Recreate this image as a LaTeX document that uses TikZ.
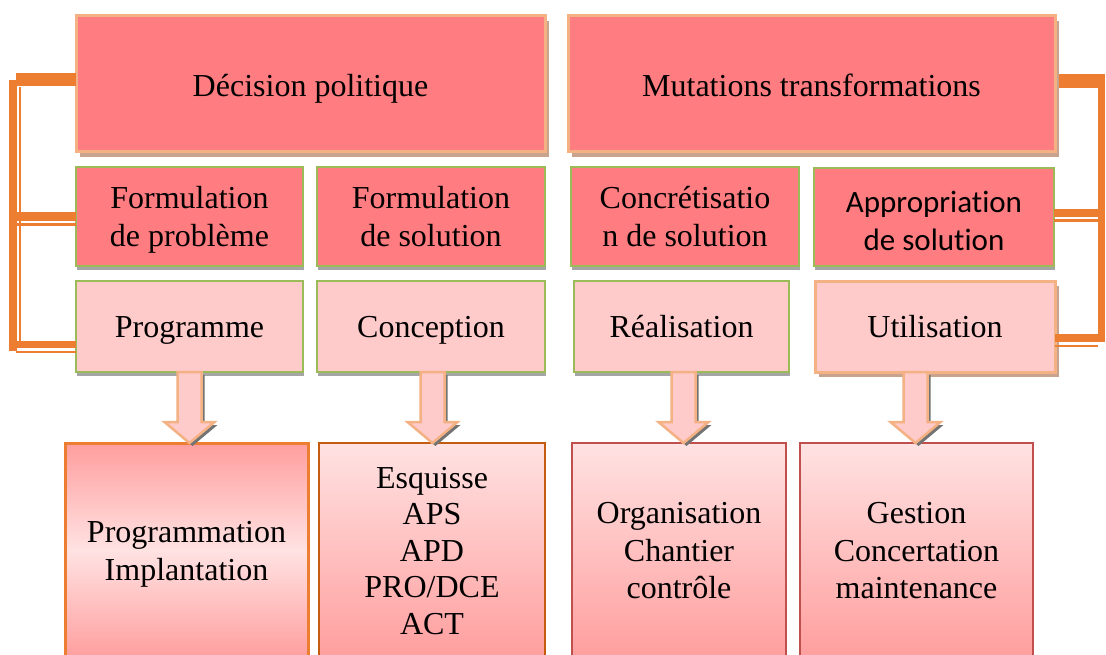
\documentclass[tikz,border=0pt]{standalone}
\usepackage{fontspec}
\setmainfont{Liberation Serif}
\newfontfamily\sansapp[Ligatures=NoCommon]{Carlito}
\usetikzlibrary{calc,shadows}

\definecolor{roseVif}{HTML}{FF7C80}
\definecolor{rosePale}{HTML}{FFCACA}
\definecolor{orangeClair}{HTML}{F4B183}
\definecolor{vertBord}{HTML}{9BBB59}
\definecolor{orangeTrait}{HTML}{ED7D31}
\definecolor{brunBord}{HTML}{C55A11}
\definecolor{rougeBord}{HTML}{C0504D}
\definecolor{ombreBrune}{HTML}{C8A48E}
\definecolor{ombreGrise}{HTML}{A5A5A5}
\definecolor{degradeHaut}{HTML}{FFE2E2}
\definecolor{degradeBas}{HTML}{FF9E9E}

% line struts: ascent and descent of a text line, placed in first and last lines
\newcommand\ls{\rule[-0.216em]{0pt}{1.107em}}
\newcommand\lst{\rule[-0.216em]{0pt}{1.23em}}
\newcommand\lsc{\rule[-0.216em]{0pt}{1.36em}}

% block arrow: #1 x position (coordinate), #2 source node, #3 target node
\newcommand\flechebloc[3]{%
  \path[fleche] ($(#2.south -| #1)+(-12,0)$) -- ($(#3.north -| #1)+(-12,-21)$)
    -- ($(#3.north -| #1)+(-25,-21)$) -- (#3.north -| #1)
    -- ($(#3.north -| #1)+(25,-21)$) -- ($(#3.north -| #1)+(12,-21)$)
    -- ($(#2.south -| #1)+(12,0)$) -- cycle;}

\tikzset{
  boite/.style={anchor=north west, inner sep=0pt, outer sep=0pt, align=center,
    font=\fontsize{32}{37.5}\selectfont},
  ombreB/.style={drop shadow={shadow xshift=4pt, shadow yshift=-5pt, fill=ombreBrune, opacity=1}},
  ombreG/.style={drop shadow={shadow xshift=1pt, shadow yshift=-4pt, fill=ombreGrise, opacity=1}},
  titre/.style={boite, ombreB, fill=roseVif, draw=orangeClair, line width=3pt},
  etape/.style={boite, ombreG, fill=roseVif, draw=vertBord, line width=2pt},
  phase/.style={boite, ombreG, fill=rosePale, draw=vertBord, line width=2pt},
  usage/.style={boite, ombreB, fill=rosePale, draw=orangeClair, line width=3pt},
  tache/.style={boite, line width=2.5pt, top color=degradeHaut, bottom color=degradeBas},
  fleche/.style={fill=rosePale, draw=orangeClair, line width=2.5pt, line join=miter,
    drop shadow={shadow xshift=3pt, shadow yshift=-3pt, fill=black!55, opacity=1}},
  barre/.style={draw=orangeTrait, line cap=butt},
}

\begin{document}
\begin{tikzpicture}[x=1pt,y=-1pt]
\useasboundingbox (0,0) rectangle (1106,655);
\fill[white] (0,0) rectangle (1106,655);

% free corners of the side brackets
\coordinate (gh) at (16,80);
\coordinate (gv1) at (13,80);
\coordinate (gv2) at (13,351);
\coordinate (gm) at (13,216.5);
\coordinate (gmf) at (17,225);
\coordinate (gb) at (16,344.5);
\coordinate (gbf) at (16,352);
\coordinate (gf1) at (20,87);
\coordinate (gf2) at (20,341);
\coordinate (dh) at (1105,81);
\coordinate (dv1) at (1101.5,74);
\coordinate (dv2) at (1101.5,342);
\coordinate (dm) at (1101,213);
\coordinate (dmf) at (1098,220.5);
\coordinate (db) at (1105,338);
\coordinate (dbf) at (1098,346);

% arrow axes
\coordinate (ax1) at (189.5,0);
\coordinate (ax2) at (432.5,0);
\coordinate (ax3) at (683.5,0);
\coordinate (ax4) at (915.5,0);

% top row
\node[titre, minimum width=469pt, minimum height=136pt] (dec) at (76,16) {\lst Décision politique};
\node[titre, minimum width=487pt, minimum height=136pt] (mut) at (568,16) {\lst Mutations transformations};

% second row
\node[etape, minimum width=227pt, minimum height=99pt] (fp) at (76,167) {\ls Formulation\\de problème\ls};
\node[etape, minimum width=228pt, minimum height=99pt] (fs) at (317,167) {\ls Formulation\\de solution\ls};
\node[etape, minimum width=228pt, minimum height=99pt] (cs) at (571,167) {\ls Concrétisatio\\n de solution\ls};
\node[etape, minimum width=240pt, minimum height=98pt, font=\sansapp\fontsize{31}{38}\selectfont] (app) at (814,168) {\lsc Appropriation\\de solution\ls};

% third row
\node[phase, minimum width=227pt, minimum height=91pt] (prog) at (76,281) {\ls Programme};
\node[phase, minimum width=228pt, minimum height=91pt] (conc) at (317,281) {\ls Conception};
\node[phase, minimum width=215pt, minimum height=91pt] (real) at (574,281) {\ls Réalisation};
\node[usage, minimum width=240pt, minimum height=91pt] (util) at (815,281) {\ls Utilisation};

% side brackets
\draw[barre, line width=13pt] ([yshift=4pt]dec.west) -- (gh);
\draw[barre, line width=8pt] (gv1) -- (gv2);
\draw[barre, line width=9pt] (fp.west) -- (gm);
\draw[barre, line width=3pt] ([yshift=-8.5pt]fp.west) -- (gmf);
\draw[barre, line width=7pt] ([yshift=-18pt]prog.west) -- (gb);
\draw[barre, line width=2.5pt] ([yshift=-25.5pt]prog.west) -- (gbf);
\draw[barre, line width=2.5pt] (gf1) -- (gf2);
\draw[barre, line width=14pt] ([xshift=4pt,yshift=3pt]mut.east) -- (dh);
\draw[barre, line width=7pt] (dv1) -- (dv2);
\draw[barre, line width=8pt] ([yshift=4pt]app.east) -- (dm);
\draw[barre, line width=3pt] ([yshift=-3.5pt]app.east) -- (dmf);
\draw[barre, line width=8pt] ([yshift=-11.5pt]util.east) -- (db);
\draw[barre, line width=2.5pt] ([yshift=-19.5pt]util.east) -- (dbf);

% bottom row
\node[tache, draw=orangeTrait, line width=3pt, top color=degradeBas, bottom color=degradeBas, middle color=degradeHaut,
  drop shadow={shadow xshift=1.5pt, shadow yshift=-1.5pt, fill=black!60, opacity=1},
  minimum width=243pt, minimum height=215pt] (b1) at (65,443) {\ls Programmation\\Implantation\ls};
\node[tache, draw=brunBord, minimum width=226pt, minimum height=215pt, font=\fontsize{32}{36.5}\selectfont] (b2) at (319,443) {\ls Esquisse\\APS\\APD\\PRO/DCE\\ACT\ls};
\node[tache, draw=rougeBord, minimum width=214pt, minimum height=215pt] (b3) at (572,443) {\ls Organisation\\Chantier\\contrôle\ls};
\node[tache, draw=rougeBord, minimum width=233pt, minimum height=215pt] (b4) at (800,443) {\ls Gestion\\Concertation\\maintenance\ls};

% block arrows
\flechebloc{ax1}{prog}{b1}
\flechebloc{ax2}{conc}{b2}
\flechebloc{ax3}{real}{b3}
\flechebloc{ax4}{util}{b4}
\end{tikzpicture}
\end{document}
